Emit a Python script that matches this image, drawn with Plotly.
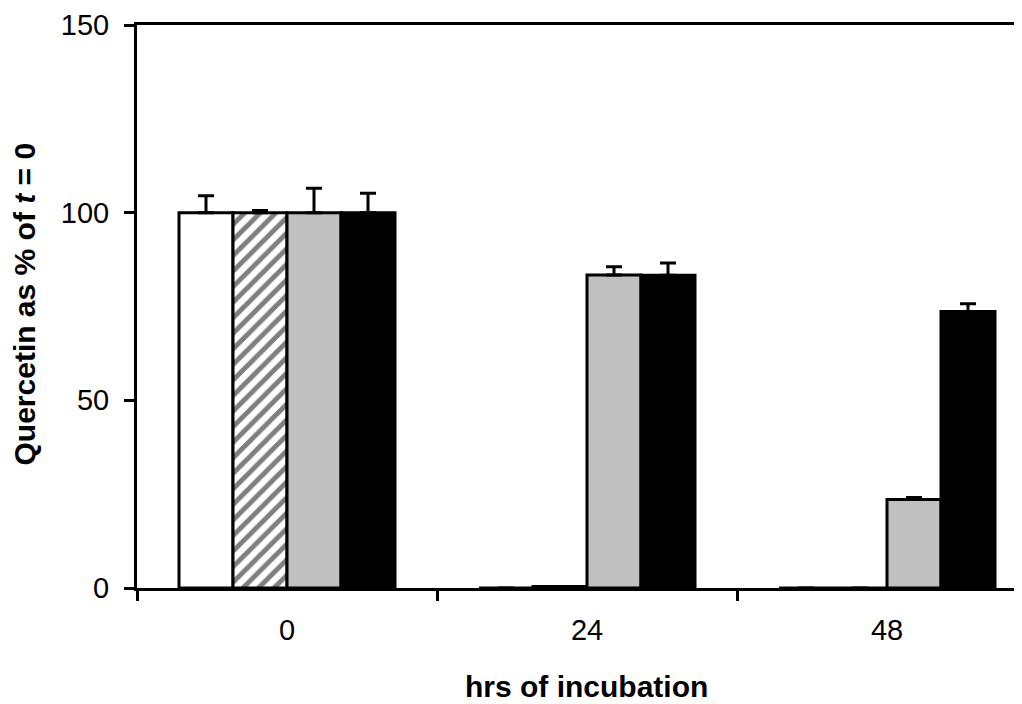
import plotly.graph_objects as go

categories = ["0", "24", "48"]
white_vals = [100, 0, 0]
hatched_vals = [100, 0.4, 0]
gray_vals = [100, 83.4, 23.6]
black_vals = [100, 83.3, 73.7]
white_err = [4.5, None, None]
hatched_err = [0.6, None, None]
gray_err = [6.5, 2.2, 0.5]
black_err = [5.2, 3.3, 2.0]
y_ticks = [0, 50, 100, 150]

FONT = "Liberation Sans, Arial, sans-serif"

# page body has an 8px margin, so the figure is laid out in coordinates shifted by 8px
OFF = 8
PL, PT, PB = 137 - OFF, 25 - OFF, 588 - OFF   # plot area in figure px
FIG_W, FIG_H = 1022, 704
PW = FIG_W - PL
PH = PB - PT

def eb(arr):
    return dict(type="data", array=arr, arrayminus=[0] * len(arr), symmetric=False,
                color="black", thickness=3, width=8)

fig = go.Figure()
line = dict(color="black", width=3)
fig.add_trace(go.Bar(x=categories, y=white_vals, error_y=eb(white_err),
                     marker=dict(color="white", line=line)))
fig.add_trace(go.Bar(x=categories, y=hatched_vals, error_y=eb(hatched_err),
                     marker=dict(color="white", line=line,
                                 pattern=dict(shape="/", fgcolor="black", bgcolor="white",
                                              size=11, solidity=0.45))))
fig.add_trace(go.Bar(x=categories, y=gray_vals, error_y=eb(gray_err),
                     marker=dict(color="#C0C0C0", line=line)))
fig.add_trace(go.Bar(x=categories, y=black_vals, error_y=eb(black_err),
                     marker=dict(color="black", line=line)))

fig.update_layout(
    width=FIG_W, height=FIG_H,
    margin=dict(l=PL, r=0, t=PT, b=FIG_H - PB),
    paper_bgcolor="white", plot_bgcolor="white",
    barmode="group", bargap=0.28, bargroupgap=0,
    showlegend=False,
    font=dict(family=FONT, color="black"),
    xaxis=dict(type="category", range=[-0.5, -0.5 + PW / 300.0], showline=True, linecolor="black",
               linewidth=3, mirror=True, ticks="outside", tickson="boundaries",
               ticklen=10, tickwidth=3, tickcolor="black", showgrid=False,
               tickfont=dict(size=29, family=FONT, color="black"), ticklabelstandoff=14),
    yaxis=dict(range=[0, 150], tickvals=y_ticks, showline=True, linecolor="black",
               linewidth=3, ticks="outside", ticklen=10, tickwidth=3, tickcolor="black",
               showgrid=False, zeroline=False,
               tickfont=dict(size=29, family=FONT, color="black"), ticklabelstandoff=9),
    annotations=[
        dict(text="<b>hrs of incubation</b>", xref="paper", yref="paper",
             x=(586.5 - 137) / PW, y=(588 - 686) / PH, xanchor="center", yanchor="middle",
             showarrow=False, font=dict(size=30, family=FONT, color="black")),
        dict(text="<b>Quercetin as % of <i>t</i> = 0</b>", xref="paper", yref="paper",
             x=(24 - 137) / PW, y=(588 - 304.5) / PH, xanchor="center", yanchor="middle",
             textangle=-90, showarrow=False, font=dict(size=30, family=FONT, color="black")),
    ],
)

fig.write_html("out.html")
